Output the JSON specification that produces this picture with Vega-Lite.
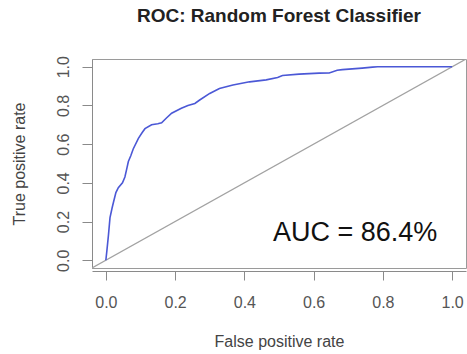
{
  "$schema": "https://vega.github.io/schema/vega-lite/v6.json",
  "autosize": {"type": "none"},
  "width": 374,
  "height": 209,
  "padding": {"left": 92, "top": 59, "right": 1, "bottom": 86},
  "background": "white",
  "title": {
    "text": "ROC: Random Forest Classifier",
    "font": "Liberation Sans",
    "fontSize": 19,
    "fontWeight": "bold",
    "color": "#222222",
    "anchor": "middle",
    "frame": "group",
    "offset": 30
  },
  "config": {
    "view": {"stroke": "#9a9a9a", "strokeWidth": 1},
    "font": "Liberation Sans"
  },
  "datasets": {
    "roc": [
      {"fpr": 0, "tpr": 0},
      {"fpr": 0.003, "tpr": 0.05},
      {"fpr": 0.0075, "tpr": 0.13},
      {"fpr": 0.012, "tpr": 0.22},
      {"fpr": 0.018, "tpr": 0.27},
      {"fpr": 0.022, "tpr": 0.3},
      {"fpr": 0.029, "tpr": 0.35},
      {"fpr": 0.036, "tpr": 0.375},
      {"fpr": 0.048, "tpr": 0.4},
      {"fpr": 0.055, "tpr": 0.43},
      {"fpr": 0.06, "tpr": 0.47},
      {"fpr": 0.065, "tpr": 0.51},
      {"fpr": 0.072, "tpr": 0.54},
      {"fpr": 0.079, "tpr": 0.575},
      {"fpr": 0.094, "tpr": 0.63},
      {"fpr": 0.105, "tpr": 0.66},
      {"fpr": 0.113, "tpr": 0.68},
      {"fpr": 0.132, "tpr": 0.7},
      {"fpr": 0.15, "tpr": 0.705},
      {"fpr": 0.161, "tpr": 0.71},
      {"fpr": 0.175, "tpr": 0.735},
      {"fpr": 0.19, "tpr": 0.76},
      {"fpr": 0.218, "tpr": 0.785},
      {"fpr": 0.237, "tpr": 0.8},
      {"fpr": 0.257, "tpr": 0.81},
      {"fpr": 0.271, "tpr": 0.828},
      {"fpr": 0.3, "tpr": 0.862},
      {"fpr": 0.328, "tpr": 0.888},
      {"fpr": 0.367, "tpr": 0.906},
      {"fpr": 0.415, "tpr": 0.922},
      {"fpr": 0.463, "tpr": 0.932},
      {"fpr": 0.496, "tpr": 0.944},
      {"fpr": 0.51, "tpr": 0.955},
      {"fpr": 0.558, "tpr": 0.962},
      {"fpr": 0.616, "tpr": 0.967},
      {"fpr": 0.645, "tpr": 0.968},
      {"fpr": 0.668, "tpr": 0.982},
      {"fpr": 0.683, "tpr": 0.985},
      {"fpr": 0.74, "tpr": 0.993},
      {"fpr": 0.77, "tpr": 0.998},
      {"fpr": 0.785, "tpr": 1.0},
      {"fpr": 1.0, "tpr": 1.0}
    ],
    "diag": [
      {"fpr": -0.04, "tpr": -0.04},
      {"fpr": 1.04, "tpr": 1.04}
    ],
    "label": [
      {"fpr": 0.72, "tpr": 0.14, "text": "AUC = 86.4%"}
    ]
  },
  "layer": [
    {
      "data": {"name": "diag"},
      "mark": {"type": "line", "color": "#a2a2a2", "strokeWidth": 1.2, "clip": true},
      "encoding": {
        "x": {
          "field": "fpr", "type": "quantitative",
          "scale": {"domain": [-0.04, 1.04], "nice": false, "zero": false},
          "axis": {
            "title": "False positive rate",
            "values": [0, 0.2, 0.4, 0.6, 0.8, 1.0],
            "format": ".1f",
            "grid": false,
            "offset": 3,
            "domainColor": "#8a8a8a",
            "tickColor": "#8a8a8a",
            "tickSize": 9,
            "labelFont": "Liberation Sans",
            "labelFontSize": 16,
            "labelColor": "#555555",
            "labelPadding": 14,
            "titleFont": "Liberation Sans",
            "titleFontSize": 16,
            "titleFontWeight": "normal",
            "titleColor": "#444444",
            "titlePadding": 23
          }
        },
        "y": {
          "field": "tpr", "type": "quantitative",
          "scale": {"domain": [-0.04, 1.04], "nice": false, "zero": false},
          "axis": {
            "title": "True positive rate",
            "values": [0, 0.2, 0.4, 0.6, 0.8, 1.0],
            "format": ".1f",
            "grid": false,
            "offset": 0,
            "domainColor": "#8a8a8a",
            "tickColor": "#8a8a8a",
            "tickSize": 10,
            "labelFont": "Liberation Sans",
            "labelFontSize": 16,
            "labelColor": "#555555",
            "labelAngle": 270,
            "labelAlign": "center",
            "labelBaseline": "alphabetic",
            "labelPadding": 14,
            "titleFont": "Liberation Sans",
            "titleFontSize": 16,
            "titleFontWeight": "normal",
            "titleColor": "#444444",
            "titlePadding": 28
          }
        }
      }
    },
    {
      "data": {"name": "roc"},
      "mark": {"type": "line", "color": "#4b58d6", "strokeWidth": 1.6, "clip": true},
      "encoding": {
        "x": {"field": "fpr", "type": "quantitative"},
        "y": {"field": "tpr", "type": "quantitative"}
      }
    },
    {
      "data": {"name": "label"},
      "mark": {"type": "text", "font": "Liberation Sans", "fontSize": 27, "color": "#111111", "align": "center", "baseline": "middle"},
      "encoding": {
        "x": {"field": "fpr", "type": "quantitative"},
        "y": {"field": "tpr", "type": "quantitative"},
        "text": {"field": "text"}
      }
    }
  ]
}
